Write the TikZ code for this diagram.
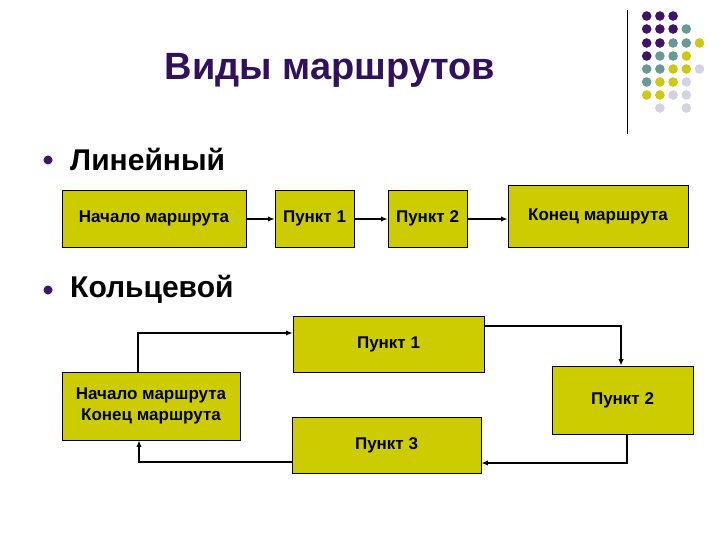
\documentclass[tikz,border=0pt]{standalone}
\usepackage{fontspec}
\setmainfont{Liberation Sans}
\usetikzlibrary{arrows.meta}
\definecolor{boxy}{RGB}{204,204,0}
\definecolor{titlepurple}{RGB}{50,16,92}
\definecolor{dpurple}{RGB}{64,20,100}
\definecolor{dteal}{RGB}{104,152,152}
\definecolor{dyellow}{RGB}{204,200,20}
\definecolor{dlav}{RGB}{210,210,226}
\tikzset{
  routebox/.style={draw=black, line width=0.9pt, fill=boxy, inner sep=0pt, align=center,
    font=\bfseries\fontsize{17}{21}\selectfont},
  conn/.style={draw=black, line width=1.4pt, -{Latex[length=6.5pt,width=5.5pt]}},
  dotp/.style={fill=dpurple},
  dott/.style={fill=dteal},
  doty/.style={fill=dyellow},
  dotl/.style={fill=dlav},
  bullet/.style={circle, fill=dpurple, inner sep=0pt, minimum size=9pt},
  heading/.style={anchor=west, inner sep=0pt, font=\bfseries\fontsize{30}{34}\selectfont},
}
\begin{document}
\begin{tikzpicture}[x=1pt,y=-1pt]
\useasboundingbox (0,0) rectangle (720,540);
% decorative line and dots
\draw[line width=1pt, black] (627,10) coordinate (vl1) -- (627,134) coordinate (vl2);
\foreach \y/\list in {16/{p,p,p}, 29/{p,p,p,t}, 43/{p,p,t,t,y}, 56/{p,t,t,y}, 69/{t,t,y,y,l}, 82/{t,y,y,l}, 95/{y,y,l,l}}{
  \foreach \c [count=\i from 0] in \list {
    \fill[dot\c] (646.7+13.2*\i,\y) circle (4.8);
  }
}
\fill[dotl] (659.9,108) circle (4.8);
\fill[dotl] (686.3,108) circle (4.8);
% title
\node[inner sep=0pt, text=titlepurple, font=\bfseries\fontsize{38}{44}\selectfont] (title) at (330,70) {Виды маршрутов};
% bullets
\node[bullet] (b1) at (48,160) {};
\node[heading] (h1) at (70,159) {Линейный};
\node[bullet] (b2) at (48,290) {};
\node[heading] (h2) at (70,289) {Кольцевой};
% linear
\node[routebox, minimum width=184pt, minimum height=57pt] (l1) at (154,218.5) {Начало маршрута};
\node[routebox, minimum width=79pt, minimum height=57pt] (l2) at (314.5,218.5) {Пункт 1};
\node[routebox, minimum width=79pt, minimum height=57pt] (l3) at (427.5,218.5) {Пункт 2};
\node[routebox, minimum width=180pt, minimum height=62pt] (l4) at (598,216) {\raisebox{3pt}{Конец маршрута}};
\coordinate (ly) at (0,219);
\draw[conn] (l1.east |- ly) -- (l2.west |- ly);
\draw[conn] (l2.east |- ly) -- (l3.west |- ly);
\draw[conn] (l3.east |- ly) -- (l4.west |- ly);
% ring
\node[routebox, minimum width=191pt, minimum height=56pt] (p1) at (388.5,344) {Пункт 1};
\node[routebox, minimum width=178pt, minimum height=68pt] (s) at (151,406) {Начало маршрута\\Конец маршрута};
\node[routebox, minimum width=141pt, minimum height=68pt] (p2) at (622.5,400) {Пункт 2};
\node[routebox, minimum width=189pt, minimum height=56pt] (p3) at (386.5,445) {Пункт 3};
\coordinate (a1) at (138,333);
\coordinate (a2) at (621,326);
\coordinate (a3) at (627,463);
\coordinate (a4) at (139,462);
\draw[conn] (s.north -| a1) |- (p1.west |- a1);
\draw[conn] (p1.east |- a2) -| (p2.north -| a2);
\draw[conn] (p2.south -| a3) |- (p3.east |- a3);
\draw[conn] (p3.west |- a4) -| (s.south -| a4);
\end{tikzpicture}
\end{document}
